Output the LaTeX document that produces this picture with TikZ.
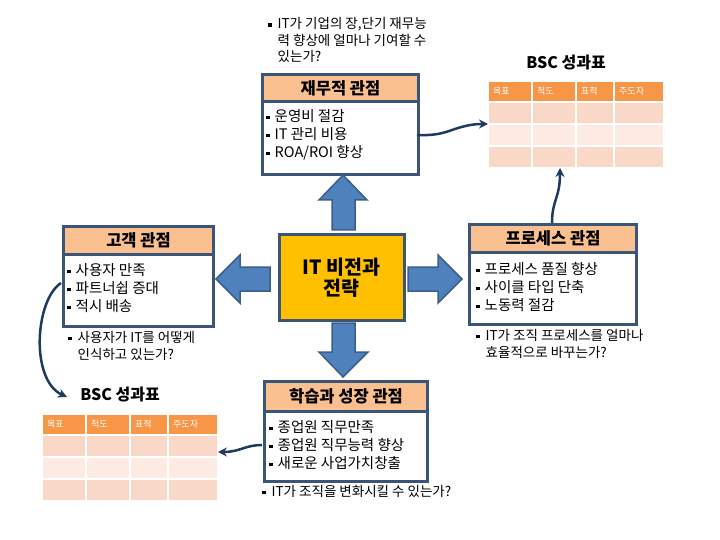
\documentclass[tikz,border=0pt]{standalone}
\usepackage{fontspec}
\setmainfont{Noto Sans CJK KR}
\usetikzlibrary{arrows.meta}
\definecolor{boxc}{HTML}{3A5578}
\definecolor{peach}{HTML}{FAC08F}
\definecolor{vision}{HTML}{FFC000}
\definecolor{arrfill}{HTML}{4F81BD}
\definecolor{arrline}{HTML}{3A5F8A}
\definecolor{conn}{HTML}{1F3A5F}
\definecolor{thead}{HTML}{F79646}
\definecolor{trowa}{HTML}{FAD8C8}
\definecolor{trowb}{HTML}{FCEAE3}
\newcommand{\bul}{\raisebox{0.28ex}{\rule{3.5pt}{3.5pt}}}
\newcommand{\bsctab}[3]{%
  \foreach \cx/\cw/\lab [count=\i] in {0/42/목표, 44/42/척도, 88/36/표적, 126/48/주도자} {
    \node[tcell, fill=thead, minimum width=\cw, minimum height=19, anchor=north west] (#1h\i) at (#2+\cx, #3) {};
    \node[thtxt, anchor=west] (#1t\i) at (#2+\cx+4, #3+9.5) {\lab};
    \node[tcell, fill=trowa, minimum width=\cw, minimum height=20, anchor=north west] (#1a\i) at (#2+\cx, #3+21) {};
    \node[tcell, fill=trowb, minimum width=\cw, minimum height=20, anchor=north west] (#1b\i) at (#2+\cx, #3+43) {};
    \node[tcell, fill=trowa, minimum width=\cw, minimum height=20, anchor=north west] (#1c\i) at (#2+\cx, #3+65) {};
  }%
}
\begin{document}
\begin{tikzpicture}[x=1pt,y=-1pt,
  panel/.style={draw=boxc, line width=3pt, fill=white, inner sep=0pt, anchor=north west},
  hdr/.style={draw=boxc, line width=3pt, fill=peach, inner sep=0pt, anchor=north west,
    font=\fontsize{16.5}{19}\selectfont\bfseries},
  items/.style={anchor=west, inner sep=0pt, align=left, font=\fontsize{14.5}{18}\selectfont},
  quest/.style={anchor=west, inner sep=0pt, align=left, font=\fontsize{13.5}{16.5}\selectfont},
  tcell/.style={inner sep=0pt, draw=none},
  thtxt/.style={inner sep=0pt, text=white, font=\fontsize{9}{10}\selectfont},
  bsctitle/.style={inner sep=0pt, font=\fontsize{16}{18}\selectfont\bfseries},
  blockarrow/.style={fill=arrfill, draw=arrline, line width=1.5pt, line join=miter},
  connector/.style={draw=conn, line width=2.5pt, -{Stealth[length=9pt,width=9pt]}},
]
\useasboundingbox (0,0) rectangle (720,540);

% ---------- top question
\node[quest] (q1) at (268,42) {\begin{tabular}{@{}l@{\hspace{6pt}}l@{}}\bul & IT가 기업의 장,단기 재무능\\ & 력 향상에 얼마나 기여할 수\\ & 있는가?\end{tabular}};

% ---------- financial
\node[panel, minimum width=156, minimum height=100] (fin) at (261,73) {};
\node[hdr, minimum width=156, minimum height=27] (finh) at (261,73) {재무적 관점};
\node[items] (fini) at (266,136) {\begin{tabular}{@{}l@{\hspace{5pt}}l@{}}\bul & 운영비 절감\\ \bul & IT 관리 비용\\ \bul & ROA/ROI 향상\end{tabular}};

% ---------- customer
\node[panel, minimum width=150, minimum height=100] (cus) at (62,225) {};
\node[hdr, minimum width=150, minimum height=28] (cush) at (62,225) {고객 관점};
\node[items] (cusi) at (67,290) {\begin{tabular}{@{}l@{\hspace{5pt}}l@{}}\bul & 사용자 만족\\ \bul & 파트너쉽 증대\\ \bul & 적시 배송\end{tabular}};
\node[quest] (q2) at (68,347.5) {\begin{tabular}{@{}l@{\hspace{6pt}}l@{}}\bul & 사용자가 IT를 어떻게\\ & 인식하고 있는가?\end{tabular}};

% ---------- process
\node[panel, minimum width=167, minimum height=100] (pro) at (468,223) {};
\node[hdr, minimum width=167, minimum height=28] (proh) at (468,223) {프로세스 관점};
\node[items] (proi) at (476,289) {\begin{tabular}{@{}l@{\hspace{5pt}}l@{}}\bul & 프로세스 품질 향상\\ \bul & 사이클 타입 단축\\ \bul & 노동력 절감\end{tabular}};
\node[quest] (q3) at (476,345.5) {\begin{tabular}{@{}l@{\hspace{6pt}}l@{}}\bul & IT가 조직 프로세스를 얼마나\\ & 효율적으로 바꾸는가?\end{tabular}};

% ---------- learning
\node[panel, minimum width=163, minimum height=100] (lea) at (263,380) {};
\node[hdr, minimum width=163, minimum height=30] (leah) at (263,380) {학습과 성장 관점};
\node[items] (leai) at (269,447) {\begin{tabular}{@{}l@{\hspace{5pt}}l@{}}\bul & 종업원 직무만족\\ \bul & 종업원 직무능력 향상\\ \bul & 새로운 사업가치창출\end{tabular}};
\node[quest] (q4) at (262,493) {\begin{tabular}{@{}l@{\hspace{6pt}}l@{}}\bul & IT가 조직을 변화시킬 수 있는가?\end{tabular}};

% ---------- vision
\node[draw=boxc, line width=2.5pt, fill=vision, minimum width=125, minimum height=86, anchor=north west,
  align=center, font=\fontsize{19.5}{21}\selectfont\bfseries] (vis) at (278,233) {IT 비전과\\전략};

% ---------- block arrows
\draw[blockarrow] (332,230) -- (332,200) -- (319,200) -- (343,175) -- (367,200) -- (355,200) -- (355,230) -- cycle;
\draw[blockarrow] (332,323) -- (332,352) -- (319,352) -- (343,377) -- (368,352) -- (355,352) -- (355,323) -- cycle;
\draw[blockarrow] (270,267) -- (240,267) -- (240,255) -- (216,279) -- (240,303) -- (240,291) -- (270,291) -- cycle;
\draw[blockarrow] (408,267) -- (438,267) -- (438,255) -- (462,279) -- (438,303) -- (438,291) -- (408,291) -- cycle;

% ---------- BSC tables
\node[bsctitle] (bsc1) at (566,63) {BSC 성과표};
\bsctab{ta}{489}{82}
\node[bsctitle] (bsc2) at (120,395) {BSC 성과표};
\bsctab{tb}{43}{415}

% ---------- connectors
\coordinate (c1s) at (417,135);
\coordinate (c1e) at (488,124);
\draw[connector] (c1s) .. controls (440,136) and (448,131) .. (458,128) .. controls (468,125) and (475,124) .. (c1e);
\coordinate (c2s) at (552,223);
\coordinate (c2e) at (560,168);
\draw[connector] (c2s) .. controls (552,200) and (560,198) .. (c2e);
\coordinate (c3s) at (61,283);
\coordinate (c3e) at (67,397);
\draw[connector] (c3s) .. controls (35,300) and (30,380) .. (c3e);
\coordinate (c4s) at (262,445);
\coordinate (c4e) at (218,452);
\draw[connector] (c4s) .. controls (245,445) and (240,452) .. (c4e);
\end{tikzpicture}
\end{document}
